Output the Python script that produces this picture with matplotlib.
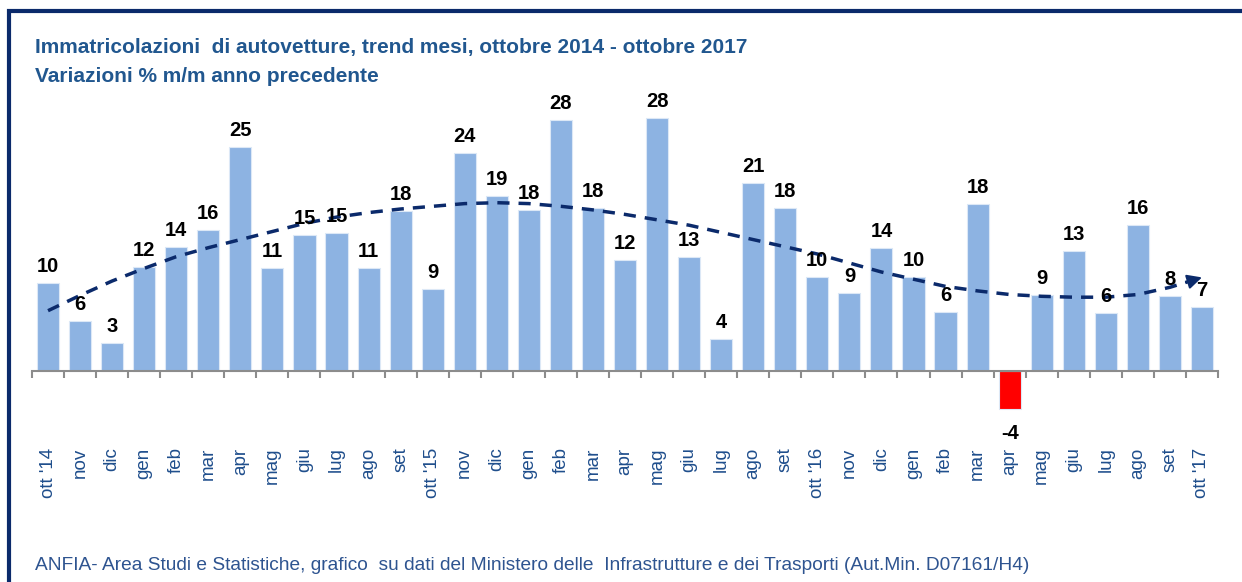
import matplotlib
matplotlib.use('Agg')
import matplotlib.pyplot as plt
from matplotlib.patches import Rectangle

# data (variazioni % m/m anno precedente)
months = ["ott '14", "nov", "dic", "gen", "feb", "mar", "apr", "mag", "giu", "lug", "ago", "set",
          "ott '15", "nov", "dic", "gen", "feb", "mar", "apr", "mag", "giu", "lug", "ago", "set",
          "ott '16", "nov", "dic", "gen", "feb", "mar", "apr", "mag", "giu", "lug", "ago", "set",
          "ott '17"]
values = [9.8, 5.6, 3.1, 11.6, 13.8, 15.7, 24.9, 11.4, 15.1, 15.3, 11.4, 17.8,
          9.1, 24.2, 19.4, 17.9, 27.9, 18.1, 12.3, 28.1, 12.7, 3.6, 20.9, 18.1,
          10.4, 8.7, 13.7, 10.4, 6.6, 18.6, -4.2, 8.4, 13.3, 6.4, 16.2, 8.3,
          7.1]
labels = [10, 6, 3, 12, 14, 16, 25, 11, 15, 15, 11, 18,
          9, 24, 19, 18, 28, 18, 12, 28, 13, 4, 21, 18,
          10, 9, 14, 10, 6, 18, -4, 9, 13, 6, 16, 8,
          7]
# polynomial trend line as drawn in the original
trend = [6.7, 8.4, 10.0, 11.4, 12.7, 13.7, 14.6, 15.5, 16.4, 17.1, 17.6, 18.0,
         18.3, 18.6, 18.7, 18.6, 18.3, 17.9, 17.4, 16.8, 16.2, 15.4, 14.6, 13.8,
         13.0, 12.0, 11.0, 10.2, 9.4, 8.9, 8.5, 8.3, 8.2, 8.2, 8.5, 9.3,
         10.4]

W, H = 1242, 582
navy = '#0B2A6B'
blue_txt = '#1F4E8C'
narrow = ['Liberation Sans Narrow', 'Liberation Sans', 'DejaVu Sans']

fig = plt.figure(figsize=(W / 100, H / 100), dpi=100)

# frame around the chart
fig.patches.append(Rectangle((9 / W, -0.1), 1.2, 1 - 11 / H + 0.1, transform=fig.transFigure,
                             fill=False, edgecolor=navy, lw=3, zorder=0))

ax = fig.add_axes([32 / W, (H - 443) / H, 1186 / W, 38 * 9 / H])
x = list(range(len(values)))
colors = ['#FF0000' if v < 0 else '#8DB3E2' for v in values]
ax.bar(x, values, width=0.69, color=colors, edgecolor='#DCE8F6', linewidth=0.8, zorder=2)

ax.plot(x, trend, color=navy, lw=2.5, ls=(0, (3.5, 2.6)), zorder=3)
ax.annotate('', xy=(x[-1], trend[-1]), xytext=(x[-2] + 0.5, (trend[-2] + trend[-1]) / 2),
            arrowprops=dict(arrowstyle='-|>', mutation_scale=22, color=navy, lw=1.5,
                            shrinkA=0, shrinkB=0), zorder=4)

for xi, v, lab in zip(x, values, labels):
    if v >= 0:
        ax.annotate(str(lab), (xi, v), xytext=(0, 5), textcoords='offset points',
                    ha='center', va='bottom', fontsize=14.5, fontweight='bold',
                    family=narrow, color='black', zorder=5)
    else:
        ax.annotate(str(lab), (xi, v), xytext=(0, -11), textcoords='offset points',
                    ha='center', va='top', fontsize=14.5, fontweight='bold',
                    family=narrow, color='black', zorder=5)

ax.set_xlim(-0.5, len(values) - 0.5)
ax.set_ylim(-8, 30)
for s in ['top', 'right', 'left']:
    ax.spines[s].set_visible(False)
ax.spines['bottom'].set_position(('data', 0))
ax.spines['bottom'].set_color('#8C8C8C')
ax.spines['bottom'].set_linewidth(1.5)
ax.spines['bottom'].set_zorder(3)
ax.set_yticks([])

ax.set_xticks(x)
ax.set_xticklabels(months, rotation=90, color=blue_txt, fontsize=13.5, family='Liberation Sans')
ax.set_xticks([i - 0.5 for i in range(len(values) + 1)], minor=True)
ax.tick_params(axis='x', which='major', length=0, pad=55)
ax.tick_params(axis='x', which='minor', length=5, width=1.5, color='#8C8C8C', direction='out')

fig.text(35 / W, 1 - 47 / H, 'Immatricolazioni  di autovetture, trend mesi, ottobre 2014 - ottobre 2017',
         ha='left', va='center', fontsize=15, fontweight='bold', family=narrow, color='#21578F')
fig.text(35 / W, 1 - 77 / H, 'Variazioni % m/m anno precedente',
         ha='left', va='center', fontsize=15, fontweight='bold', family=narrow, color='#21578F')
fig.text(35 / W, 1 - 565 / H,
         'ANFIA- Area Studi e Statistiche, grafico  su dati del Ministero delle  Infrastrutture e dei Trasporti (Aut.Min. D07161/H4)',
         ha='left', va='center', fontsize=13.8, family=narrow, color='#2E5490')

fig.savefig('out.png', dpi=100)
